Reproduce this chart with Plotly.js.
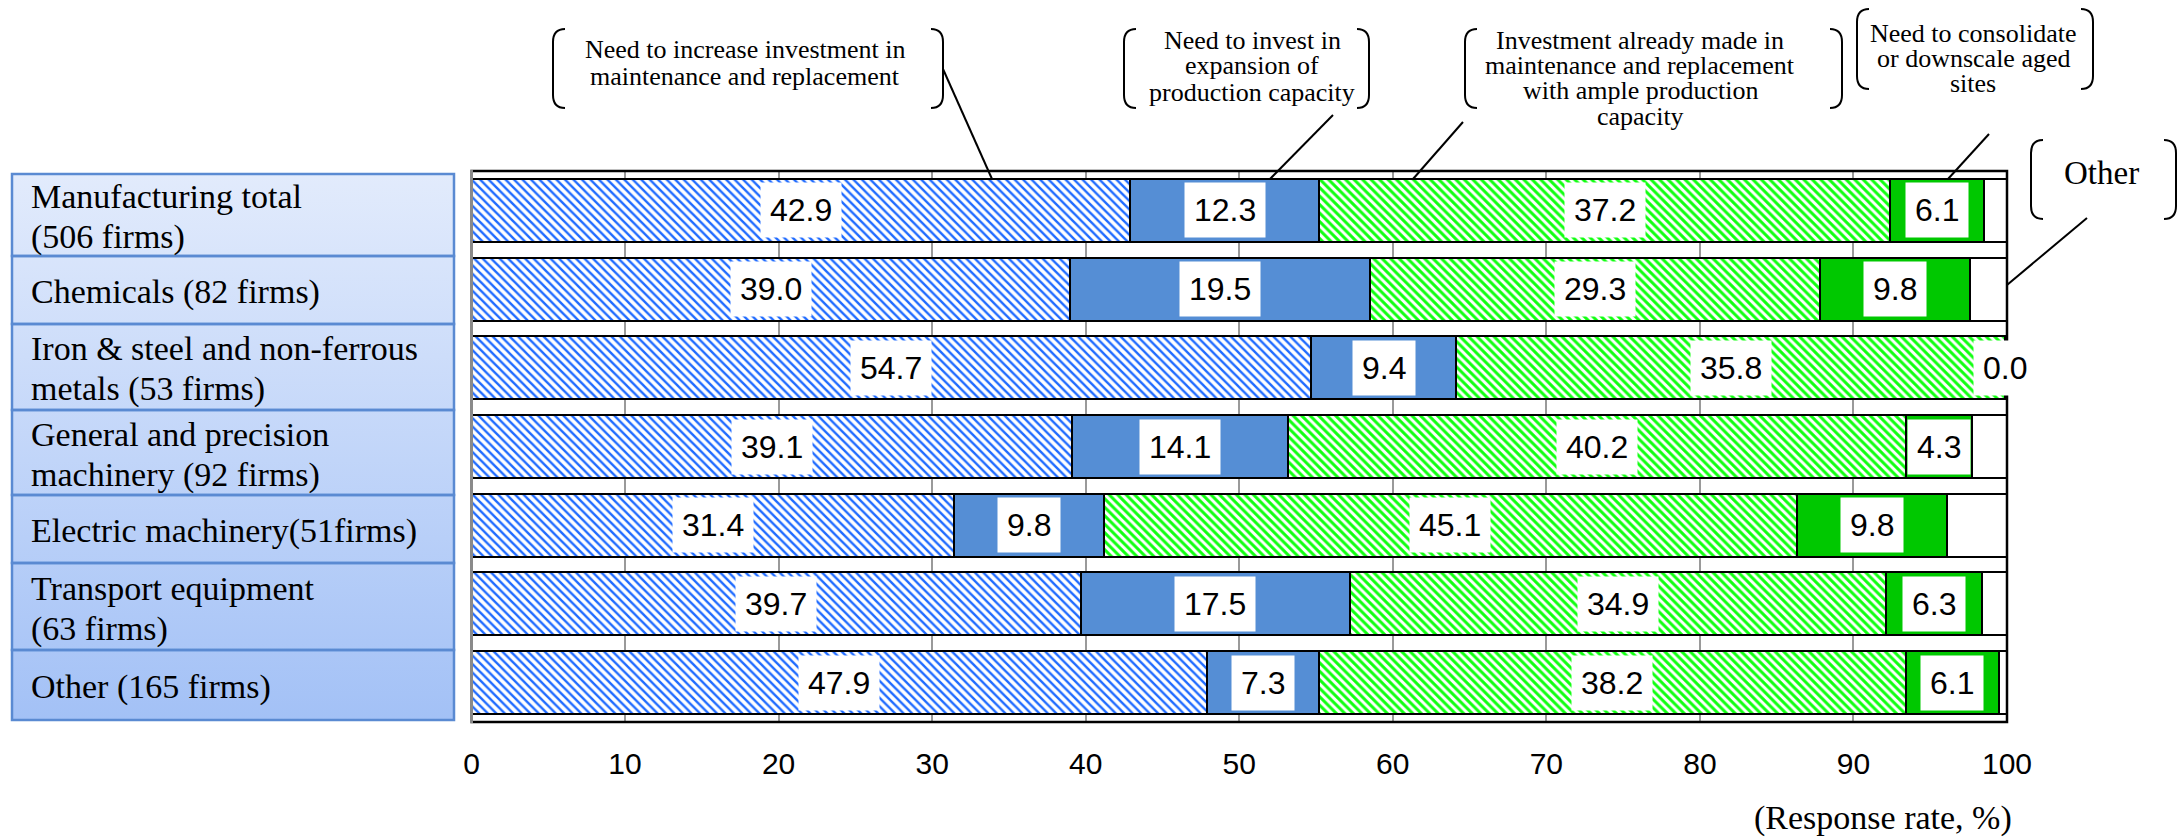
<!DOCTYPE html>
<html>
<head>
<meta charset="utf-8">
<script src="https://cdn.plot.ly/plotly-3.0.1.min.js"></script>
<style>
  html, body { margin: 0; padding: 0; background: #ffffff; }
  #chart { width: 2181px; height: 837px; }
</style>
</head>
<body>
<div id="chart"></div>
<script>
// Industry groups (top to bottom); <br> marks the line breaks in the side table
const categories = [
  "Manufacturing total<br>(506 firms)",
  "Chemicals (82 firms)",
  "Iron & steel and non-ferrous<br>metals (53 firms)",
  "General and precision<br>machinery (92 firms)",
  "Electric machinery(51firms)",
  "Transport equipment<br>(63 firms)",
  "Other (165 firms)"
];

// Response categories, in stacking order
const seriesNames = [
  "Need to increase investment in<br>maintenance and replacement",
  "Need to invest in<br>expansion of<br>production capacity",
  "Investment already made in<br>maintenance and replacement<br>with ample production<br>capacity",
  "Need to consolidate<br>or downscale aged<br>sites",
  "Other"
];

// Response rates (%)
const increaseMaintenance = [42.9, 39.0, 54.7, 39.1, 31.4, 39.7, 47.9];
const expandCapacity      = [12.3, 19.5,  9.4, 14.1,  9.8, 17.5,  7.3];
const alreadyInvested     = [37.2, 29.3, 35.8, 40.2, 45.1, 34.9, 38.2];
const consolidateSites    = [ 6.1,  9.8,  0.0,  4.3,  9.8,  6.3,  6.1];
const otherResponses      = [ 1.5,  2.4,  0.1,  2.3,  3.9,  1.6,  0.5];

const xTickValues = [0, 10, 20, 30, 40, 50, 60, 70, 80, 90, 100];
const axisNote = "(Response rate, %)";

// ---------------------------------------------------------------------------
const W = 2181, H = 837;
const X = px => px / W;          // pixel -> paper (x)
const Y = py => 1 - py / H;      // pixel -> paper (y)

const SERIF = 'Liberation Serif, Times New Roman, serif';
const SANS = 'Liberation Sans, Arial, sans-serif';

const plotLeft = 471.5, plotRight = 2007, plotTop = 171, plotBottom = 722;

const seriesValues = [increaseMaintenance, expandCapacity, alreadyInvested, consolidateSites, otherResponses];
const seriesStyles = [
  { color: '#1f6bff', pattern: { shape: '\\', fillmode: 'replace', bgcolor: '#ffffff', fgcolor: '#1f6bff', size: 6, solidity: 0.4 } },
  { color: '#558ed5' },
  { color: '#22ff22', pattern: { shape: '\\', fillmode: 'replace', bgcolor: '#ffffff', fgcolor: '#11ff11', size: 6, solidity: 0.5 } },
  { color: '#00c800' },
  { color: '#ffffff' }
];

const traces = seriesValues.map((vals, k) => {
  const marker = { color: seriesStyles[k].color, line: { color: '#000000', width: 2 } };
  if (seriesStyles[k].pattern) marker.pattern = seriesStyles[k].pattern;
  return {
    type: 'bar',
    orientation: 'h',
    name: seriesNames[k].replace(/<br>/g, ' '),
    x: vals,
    y: categories,
    marker: marker,
    hoverinfo: 'x+name',
    showlegend: false
  };
});

// Side table background with a top-to-bottom blue gradient
const tableLeft = 12, tableRight = 454;
const rowEdges = [174, 256, 324, 410, 495, 563, 650, 720];
traces.push({
  type: 'scatter',
  xaxis: 'x2', yaxis: 'y2',
  x: [tableLeft, tableRight, tableRight, tableLeft, tableLeft],
  y: [rowEdges[0], rowEdges[0], rowEdges[7], rowEdges[7], rowEdges[0]],
  mode: 'lines',
  line: { width: 0 },
  fill: 'toself',
  fillgradient: {
    type: 'vertical',
    start: rowEdges[0], stop: rowEdges[7],
    colorscale: [[0, '#e2ebfc'], [1, '#a3c1f6']]
  },
  hoverinfo: 'skip',
  showlegend: false
});

const shapes = [];
const annotations = [];

// Table cell borders and labels
categories.forEach((cat, i) => {
  const top = rowEdges[i], bot = rowEdges[i + 1];
  shapes.push({
    type: 'rect', xref: 'paper', yref: 'paper',
    x0: X(tableLeft), x1: X(tableRight), y0: Y(bot), y1: Y(top),
    line: { color: '#5a8ad2', width: 2.5 }, fillcolor: 'rgba(0,0,0,0)', layer: 'above'
  });
  const lines = cat.split('<br>');
  const mid = (top + bot) / 2 + 2;
  lines.forEach((ln, j) => {
    annotations.push({
      xref: 'paper', yref: 'paper',
      x: X(29), y: Y(mid + (j - (lines.length - 1) / 2) * 41),
      xanchor: 'left', yanchor: 'middle',
      text: ln, showarrow: false,
      font: { family: SERIF, size: 34, color: '#000000' }
    });
  });
});

// Value labels in white boxes at the middle of each segment
categories.forEach((cat, i) => {
  let cum = 0;
  for (let k = 0; k < 4; k++) {
    const v = seriesValues[k][i];
    annotations.push({
      xref: 'x', yref: 'y',
      x: cum + v / 2, y: cat,
      text: v.toFixed(1), showarrow: false,
      bgcolor: '#ffffff', borderpad: 9,
      font: { family: SANS, size: 32, color: '#000000' }
    });
    cum += v;
  }
});

// Plot frame
shapes.push({
  type: 'rect', xref: 'paper', yref: 'paper',
  x0: X(plotLeft), x1: X(plotRight), y0: Y(plotBottom), y1: Y(plotTop),
  line: { color: '#000000', width: 2.5 }, fillcolor: 'rgba(0,0,0,0)', layer: 'above'
});
shapes.push({
  type: 'line', xref: 'paper', yref: 'paper',
  x0: X(plotLeft), x1: X(plotLeft), y0: Y(plotBottom + 1), y1: Y(plotTop - 1),
  line: { color: '#8a8a8a', width: 3 }, layer: 'above'
});

// Bracketed callouts naming each response, with leader lines to the bars
function bracketPath(xv, yt, yb, dir) {
  const w = 12 * dir, r = 13;
  return `M ${X(xv + w)},${Y(yt)} Q ${X(xv)},${Y(yt)} ${X(xv)},${Y(yt + r)} ` +
         `L ${X(xv)},${Y(yb - r)} Q ${X(xv)},${Y(yb)} ${X(xv + w)},${Y(yb)}`;
}
const callouts = [
  { s: 0, xl: 553,  xr: 943,  yt: 29,  yb: 108, cx: 745,  y0: 50,  step: 26, size: 26, lead: [943, 69, 992, 179] },
  { s: 1, xl: 1124, xr: 1369, yt: 29,  yb: 108, cx: 1252, y0: 40,  step: 26, size: 26, lead: [1333, 115, 1270, 179] },
  { s: 2, xl: 1465, xr: 1842, yt: 29,  yb: 108, cx: 1640, y0: 41,  step: 25, size: 26, lead: [1463, 122, 1413, 179] },
  { s: 3, xl: 1857, xr: 2093, yt: 9,   yb: 89,  cx: 1973, y0: 33,  step: 25, size: 26, lead: [1989, 134, 1948, 179] },
  { s: 4, xl: 2031, xr: 2176, yt: 140, yb: 219, cx: 2101, y0: 173, step: 0,  size: 33, lead: [2087, 218, 2007, 285] }
];
callouts.forEach(c => {
  shapes.push({ type: 'path', xref: 'paper', yref: 'paper', path: bracketPath(c.xl, c.yt, c.yb, 1),
                line: { color: '#000000', width: 2 }, layer: 'above' });
  shapes.push({ type: 'path', xref: 'paper', yref: 'paper', path: bracketPath(c.xr, c.yt, c.yb, -1),
                line: { color: '#000000', width: 2 }, layer: 'above' });
  shapes.push({ type: 'line', xref: 'paper', yref: 'paper',
                x0: X(c.lead[0]), y0: Y(c.lead[1]), x1: X(c.lead[2]), y1: Y(c.lead[3]),
                line: { color: '#000000', width: 2 }, layer: 'above' });
  seriesNames[c.s].split('<br>').forEach((ln, j) => {
    annotations.push({
      xref: 'paper', yref: 'paper',
      x: X(c.cx), y: Y(c.y0 + j * c.step),
      xanchor: 'center', yanchor: 'middle',
      text: ln, showarrow: false,
      font: { family: SERIF, size: c.size, color: '#000000' }
    });
  });
});

// Axis unit note
annotations.push({
  xref: 'paper', yref: 'paper', x: X(2014), y: Y(818),
  xanchor: 'right', yanchor: 'middle', text: axisNote, showarrow: false,
  font: { family: SERIF, size: 34, color: '#000000' }
});

const layout = {
  width: W, height: H,
  margin: { l: 0, r: 0, t: 0, b: 0, pad: 0 },
  paper_bgcolor: '#ffffff',
  plot_bgcolor: 'rgba(0,0,0,0)',
  barmode: 'stack',
  bargap: 0.2,
  xaxis: {
    domain: [X(plotLeft), X(plotRight)],
    range: [0, 100],
    tickmode: 'array', tickvals: xTickValues, ticktext: xTickValues.map(String),
    showgrid: true, gridcolor: '#9a9a9a', gridwidth: 2,
    zeroline: false, showline: false, ticks: '',
    ticklabelstandoff: 21,
    tickfont: { family: SANS, size: 30, color: '#000000' },
    fixedrange: true
  },
  yaxis: {
    domain: [Y(plotBottom), Y(plotTop)],
    type: 'category',
    categoryorder: 'array', categoryarray: categories,
    range: [6.5, -0.5],
    showticklabels: false, showgrid: false, zeroline: false, showline: false, ticks: '',
    fixedrange: true
  },
  xaxis2: { domain: [0, 1], range: [0, W], anchor: 'y2', visible: false, showgrid: false, zeroline: false, fixedrange: true },
  yaxis2: { domain: [0, 1], range: [H, 0], anchor: 'x2', visible: false, showgrid: false, zeroline: false, fixedrange: true },
  shapes: shapes,
  annotations: annotations,
  showlegend: false
};

Plotly.newPlot('chart', traces, layout, { displayModeBar: false, staticPlot: true });
</script>
</body>
</html>
